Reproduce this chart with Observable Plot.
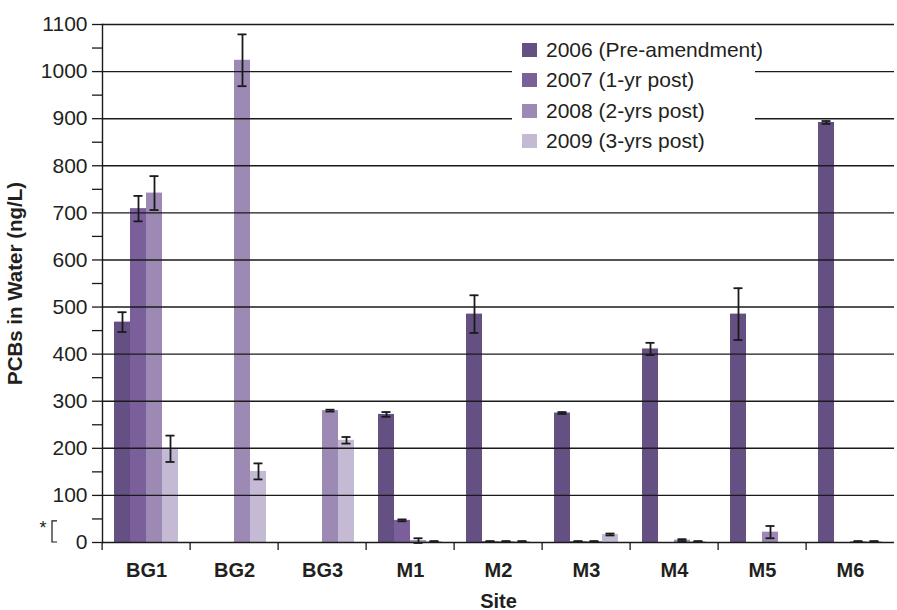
<!DOCTYPE html>
<html>
<head>
<meta charset="utf-8">
<script src="https://cdn.jsdelivr.net/npm/d3@7"></script>
<script src="https://cdn.jsdelivr.net/npm/@observablehq/plot@0.6"></script>
<style>
  html, body { margin: 0; padding: 0; background: #fff; overflow: hidden; }
  #wrap { position: relative; width: 897px; height: 610px; font-family: "Liberation Sans", Arial, Helvetica, sans-serif; color: #231f20; }
  #legend { position: absolute; left: 512px; top: 30px; width: 243px; height: 132px; background: #fff; box-sizing: border-box; padding-top: 5px; overflow: visible; white-space: nowrap; }
  .row { display: flex; align-items: center; height: 30.3px; font-size: 21px; }
  .sw { width: 15px; height: 14px; margin-left: 10px; margin-right: 9px; flex: none; }
</style>
</head>
<body>
<div id="wrap"><div id="legend"></div></div>
<script>
// ---- data ----
const sites = ["BG1", "BG2", "BG3", "M1", "M2", "M3", "M4", "M5", "M6"];
const years = ["2006 (Pre-amendment)", "2007 (1-yr post)", "2008 (2-yrs post)", "2009 (3-yrs post)"];
const colors = ["#655083", "#7b5f9b", "#9c8ab5", "#c4bad4"];

// mean PCBs (ng/L) per site, null = not sampled
const v2006 = [468, null, null, 272, 485, 275, 411, 485, 892];
const v2007 = [709, null, null, 47, 2, 2, null, null, null];
const v2008 = [742, 1024, 280, 4, 2, 2, 5, 22, 2];
const v2009 = [199, 151, 217, 2, 2, 17, 2, null, 2];
// error (+/-)
const e2006 = [21, null, null, 5, 40, 2, 13, 55, 3];
const e2007 = [27, null, null, 2, 1, 1, null, null, null];
const e2008 = [36, 55, 2, 5, 1, 1, 2, 13, 1];
const e2009 = [28, 17, 7, 1, 1, 2, 1, null, 1];

const yTicks = [0, 100, 200, 300, 400, 500, 600, 700, 800, 900, 1000, 1100];
const yMinor = [50, 150, 250, 350, 450, 550, 650, 750, 850, 950, 1050];

// ---- table ----
const vals = [v2006, v2007, v2008, v2009];
const errs = [e2006, e2007, e2008, e2009];
const rows = [];
years.forEach((yr, j) => sites.forEach((s, i) => {
  if (vals[j][i] != null) rows.push({site: s, year: yr, value: vals[j][i], err: errs[j][i]});
}));
const errRows = rows.filter(d => d.err != null);

const W = 897, mL = 98, mR = 0;
const halfBand = (W - mL - mR) / sites.length / 2;
const font = "'Liberation Sans', Arial, Helvetica, sans-serif";
const ink = "#1a1a1a";

const chart = Plot.plot({
  width: W,
  height: 610,
  marginLeft: mL,
  marginRight: mR,
  marginTop: 24,
  marginBottom: 68,
  style: {fontFamily: font, color: "#231f20", background: "#fff"},
  fx: {domain: sites, padding: 0},
  x: {domain: years, paddingInner: 0, paddingOuter: 0.6, axis: null},
  y: {domain: [0, 1100], range: [542, 24]},
  color: {domain: years, range: colors},
  marks: [
    Plot.barY(rows, {fx: "site", x: "year", y: "value", fill: "year"}),
    Plot.gridY(yTicks.slice(1), {stroke: ink, strokeOpacity: 1, strokeWidth: 1.4}),
    Plot.ruleY([0], {stroke: ink, strokeWidth: 1.4}),
    Plot.ruleX(errRows, {fx: "site", x: "year", y1: d => d.value - d.err, y2: d => d.value + d.err, stroke: ink, strokeWidth: 1.8}),
    Plot.tickY(errRows, {fx: "site", x: "year", y: d => d.value + d.err, stroke: ink, strokeWidth: 1.8, insetLeft: 3.5, insetRight: 3.5}),
    Plot.tickY(errRows, {fx: "site", x: "year", y: d => d.value - d.err, stroke: ink, strokeWidth: 1.8, insetLeft: 3.5, insetRight: 3.5}),
    Plot.frame({anchor: "left", facetAnchor: "left", stroke: ink, strokeWidth: 1.4}),
    Plot.axisY(yTicks, {tickSize: 10, tickPadding: 5, fontSize: 21, tickFormat: d => String(d), label: null, stroke: ink, strokeWidth: 1.3}),
    Plot.axisY(yMinor, {tickSize: 10, tickFormat: () => "", label: null, stroke: ink, strokeWidth: 1.3}),
    Plot.axisY({ticks: [], label: "PCBs in Water (ng/L)", labelArrow: "none", labelAnchor: "center", labelOffset: 95, fontSize: 20.5, fontWeight: "bold"}),
    Plot.axisFx({anchor: "bottom", tickSize: 8, tickFormat: () => "", label: null, dx: -halfBand, stroke: ink, strokeWidth: 1.3}),
    Plot.axisFx({anchor: "bottom", tickSize: 0, tickPadding: 20, fontSize: 20, fontWeight: "bold", label: "Site", labelAnchor: "center"})
  ]
});

// "*[" marker next to the y axis (range near detection limit)
const y = chart.scale("y");
const svg = d3.select(chart.tagName === "svg" ? chart : chart.querySelector("svg"));
const g = svg.append("g").attr("fill", "none").attr("stroke", ink).attr("stroke-width", 1.2);
g.append("path").attr("d", `M${mL - 41},${y.apply(45)}H${mL - 46}V${y.apply(0)}H${mL - 41}`);
svg.append("text").attr("x", mL - 55).attr("y", y.apply(45) + 13).attr("font-size", 18)
  .attr("font-family", font).attr("fill", "#231f20").attr("text-anchor", "middle").text("*");

document.getElementById("wrap").prepend(chart);

// legend inside plot area
const leg = d3.select("#legend");
years.forEach((yr, j) => {
  const r = leg.append("div").attr("class", "row");
  r.append("div").attr("class", "sw").style("background", colors[j]);
  r.append("span").text(yr);
});
</script>
</body>
</html>
